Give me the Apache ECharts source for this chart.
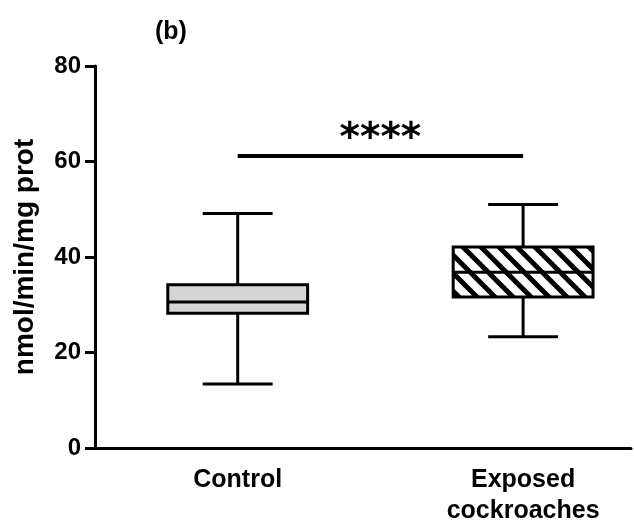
<!DOCTYPE html>
<html>
<head>
<meta charset="utf-8">
<script src="https://cdn.jsdelivr.net/npm/echarts@6/dist/echarts.min.js"></script>
<style>
  html, body { margin: 0; padding: 0; background: #ffffff; }
  #chart { width: 634px; height: 528px; }
</style>
</head>
<body>
<div id="chart"></div>
<script>
// ---- Data ----
const categories = ['Control', 'Exposed\ncockroaches'];
const minVals    = [13.4, 23.3];
const q1Vals     = [28.2, 31.6];
const medianVals = [30.6, 36.8];
const q3Vals     = [34.2, 42.1];
const maxVals    = [49.1, 51.0];
const sigLevel   = 61.3;
const sigLabel   = '****';
const yTicks     = [0, 20, 40, 60, 80];

// ---- Layout / styles ----
const FONT = '"Liberation Sans", Arial, sans-serif';
const GRID_LEFT = 95, GRID_WIDTH = 539, BAND_PX = 287;
const xMin = -0.5;
const xMax = xMin + GRID_WIDTH / BAND_PX;   // axis runs off the right edge, as in the reference

function hatchPattern() {
  const s = 18;
  const c = document.createElement('canvas');
  c.width = s; c.height = s;
  const g = c.getContext('2d');
  g.fillStyle = '#ffffff';
  g.fillRect(0, 0, s, s);
  g.strokeStyle = '#000000';
  g.lineWidth = 5;
  for (let k = -1; k <= 1; k++) {
    g.beginPath();
    g.moveTo(k * s - 3, -3);
    g.lineTo(k * s + s + 3, s + 3);
    g.stroke();
  }
  return { image: c, repeat: 'repeat' };
}
const boxFills = ['#d5d5d5', hatchPattern()];

const rows = categories.map((c, i) => [i, minVals[i], q1Vals[i], medianVals[i], q3Vals[i], maxVals[i]]);

function renderBox(params, api) {
  const i = api.value(0);
  const pMin = api.coord([i, api.value(1)]);
  const pQ1 = api.coord([i, api.value(2)]);
  const pMed = api.coord([i, api.value(3)]);
  const pQ3 = api.coord([i, api.value(4)]);
  const pMax = api.coord([i, api.value(5)]);
  const band = api.size([1, 0])[0];
  const bw = band * 0.49;
  const cw = band * 0.245;
  const cx = pMed[0];
  const ls = { stroke: '#000', lineWidth: 3 };
  return {
    type: 'group',
    children: [
      { type: 'line', shape: { x1: cx, y1: pMax[1], x2: cx, y2: pQ3[1] }, style: ls },
      { type: 'line', shape: { x1: cx, y1: pQ1[1], x2: cx, y2: pMin[1] }, style: ls },
      { type: 'line', shape: { x1: cx - cw / 2, y1: pMax[1], x2: cx + cw / 2, y2: pMax[1] }, style: ls },
      { type: 'line', shape: { x1: cx - cw / 2, y1: pMin[1], x2: cx + cw / 2, y2: pMin[1] }, style: ls },
      { type: 'rect', shape: { x: cx - bw / 2, y: pQ3[1], width: bw, height: pQ1[1] - pQ3[1] },
        style: { fill: boxFills[i], stroke: '#000', lineWidth: 3 } },
      { type: 'line', shape: { x1: cx - bw / 2, y1: pMed[1], x2: cx + bw / 2, y2: pMed[1] }, style: ls }
    ]
  };
}

function catLabel(v) {
  const r = Math.round(v);
  if (Math.abs(v - r) > 1e-6) return '';
  return categories[r] || '';
}

const chart = echarts.init(document.getElementById('chart'), null, { renderer: 'canvas' });
chart.setOption({
  animation: false,
  backgroundColor: '#ffffff',
  title: {
    text: '(b)',
    left: 150, top: 15,
    textStyle: { fontFamily: FONT, fontWeight: 'bold', fontSize: 25, color: '#000' }
  },
  grid: { left: GRID_LEFT, top: 66, width: GRID_WIDTH, height: 382 },
  xAxis: {
    type: 'value',
    min: xMin, max: xMax, interval: 0.5,
    axisLine: { show: true, onZero: false, lineStyle: { color: '#000', width: 3 } },
    axisTick: { show: false },
    axisLabel: {
      formatter: catLabel,
      color: '#000', fontFamily: FONT, fontWeight: 'bold', fontSize: 25,
      lineHeight: 31, margin: 17, hideOverlap: false
    },
    splitLine: { show: false }
  },
  yAxis: {
    type: 'value',
    min: yTicks[0], max: yTicks[yTicks.length - 1], interval: 20,
    name: 'nmol/min/mg prot',
    nameLocation: 'middle',
    nameGap: 56,
    nameTextStyle: { color: '#000', fontFamily: FONT, fontWeight: 'bold', fontSize: 28 },
    axisLine: { show: true, onZero: false, lineStyle: { color: '#000', width: 3 } },
    axisTick: { show: true, length: 10, lineStyle: { color: '#000', width: 3 } },
    axisLabel: { color: '#000', fontFamily: FONT, fontWeight: 'bold', fontSize: 24, margin: 14 },
    splitLine: { show: false }
  },
  series: [{
    type: 'custom',
    renderItem: renderBox,
    data: rows,
    encode: { x: 0, y: [1, 2, 3, 4, 5] },
    z: 3,
    markLine: {
      silent: true,
      symbol: ['none', 'none'],
      lineStyle: { color: '#000', width: 4, type: 'solid' },
      label: {
        show: true, position: 'middle', formatter: sigLabel, distance: -4,
        color: '#000', fontFamily: '"DejaVu Sans", sans-serif', fontWeight: 'bold', fontSize: 39
      },
      data: [[{ coord: [0, sigLevel] }, { coord: [1, sigLevel] }]]
    }
  }]
});
</script>
</body>
</html>
